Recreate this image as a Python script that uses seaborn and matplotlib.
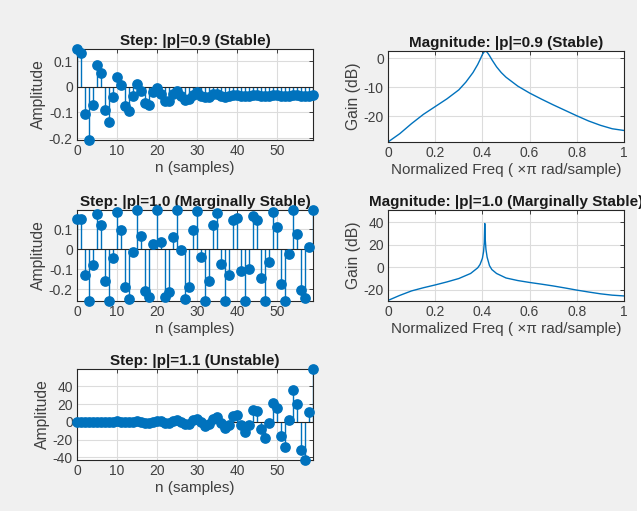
import numpy as np
import pandas as pd
import matplotlib
matplotlib.use("Agg")
import matplotlib.pyplot as plt
import seaborn as sns

# step responses, n = 0..59
n_samples = list(range(60))

step_09 = [0.147, 0.13, -0.104, -0.207, -0.07, 0.086, 0.052, -0.09, -0.138, -0.04,
           0.039, 0.008, -0.074, -0.096, -0.035, 0.01, -0.015, -0.065, -0.07, -0.022,
           -0.005, -0.028, -0.057, -0.057, -0.03, -0.016, -0.035, -0.052, -0.048, -0.031,
           -0.022, -0.034, -0.04, -0.038, -0.03, -0.029, -0.035, -0.038, -0.036, -0.031,
           -0.031, -0.035, -0.037, -0.035, -0.032, -0.032, -0.035, -0.036, -0.034, -0.032,
           -0.033, -0.035, -0.035, -0.034, -0.033, -0.033, -0.034, -0.035, -0.034, -0.033]

step_10 = [0.153, 0.153, -0.129, -0.26, -0.082, 0.174, 0.123, -0.16, -0.26, -0.043,
           0.188, 0.097, -0.188, -0.252, -0.012, 0.196, 0.066, -0.212, -0.238, 0.028,
           0.196, 0.035, -0.238, -0.216, 0.063, 0.196, -0.003, -0.252, -0.19, 0.096,
           0.19, -0.038, -0.26, -0.16, 0.12, 0.18, -0.077, -0.26, -0.129, 0.144,
           0.157, -0.108, -0.26, -0.1, 0.167, 0.144, -0.143, -0.26, -0.064, 0.184,
           0.11, -0.174, -0.26, -0.024, 0.196, 0.078, -0.204, -0.247, 0.009, 0.196]

step_11 = [0.17, 0.18, -0.1, -0.27, -0.06, 0.29, 0.24, -0.22, -0.43, -0.02,
           0.51, 0.33, -0.43, -0.67, 0.07, 0.84, 0.4, -0.81, -1.01, 0.33,
           1.35, 0.44, -1.48, -1.45, 0.85, 2.17, 0.31, -2.54, -2.02, 1.81,
           3.46, -0.08, -4.23, -2.6, 3.47, 5.34, -1.24, -6.8, -3.22, 6.5,
           7.6, -3.3, -11.0, -3.6, 13.5, 12.3, -7.5, -18.5, -1.5, 21.5,
           15.5, -16.3, -28.3, 2.5, 36.0, 19.6, -32.0, -43.0, 11.5, 59.6]

# magnitude responses (normalized frequency, dB)
freq_09 = [0, 0.05, 0.1, 0.15, 0.2, 0.25, 0.3, 0.33, 0.36, 0.38, 0.39, 0.40, 0.41,
           0.42, 0.43, 0.44, 0.46, 0.48, 0.5, 0.55, 0.6, 0.65, 0.7, 0.75, 0.8,
           0.85, 0.9, 0.95, 1.0]
gain_09 = [-29.0, -26.1, -22.6, -19.4, -16.7, -14.0, -10.9, -8.2, -4.9, -2.1, -0.4,
           1.4, 2.6, 2.2, 1.0, -0.4, -2.9, -4.9, -6.5, -9.6, -12.0, -14.1, -16.1,
           -18.0, -19.9, -21.7, -23.2, -24.4, -25.0]

freq_10 = [0, 0.05, 0.1, 0.15, 0.2, 0.25, 0.3, 0.35, 0.38, 0.39, 0.40, 0.405, 0.408,
           0.41, 0.412, 0.415, 0.42, 0.43, 0.44, 0.46, 0.5, 0.55, 0.6, 0.65, 0.7,
           0.75, 0.8, 0.85, 0.9, 0.95, 1.0]
gain_10 = [-29.5, -25.0, -21.0, -18.2, -15.7, -13.0, -10.0, -5.5, -0.5, 2.5, 8.0,
           14.0, 22.0, 39.0, 25.0, 16.0, 9.0, 1.5, -2.0, -5.5, -9.5, -11.8, -13.5,
           -15.0, -16.6, -18.4, -20.3, -22.0, -23.6, -24.8, -25.5]

BLUE = "#0072BD"
DARK = "#262626"
BG = "#f0f0f0"
W, H = 641, 511


def box(x0, x1, top, bottom):
    return [x0 / W, 1 - bottom / H, (x1 - x0) / W, (bottom - top) / H]


def style_axes(ax):
    ax.set_facecolor("white")
    ax.grid(True, color="#dcdcdc", linewidth=0.8)
    for s in ax.spines.values():
        s.set_color(DARK)
        s.set_linewidth(0.8)
        s.set_visible(True)
    ax.tick_params(direction="in", length=3, width=0.6, colors=DARK,
                   labelsize=10, pad=3, top=True, right=True,
                   labeltop=False, labelright=False)


def step_plot(ax, vals, title, yticks, ylabels):
    style_axes(ax)
    ml, sl, bl = ax.stem(n_samples, vals, basefmt=" ")
    plt.setp(ml, color=BLUE, markerfacecolor=BLUE, markeredgecolor=BLUE,
             markersize=6.7, clip_on=False, zorder=4)
    plt.setp(sl, color=BLUE, linewidth=1.0)
    ax.axhline(0, color=DARK, linewidth=0.8, zorder=3)
    ax.set_xlim(0, 59)
    ax.set_ylim(min(vals), max(vals))
    ax.set_xticks([0, 10, 20, 30, 40, 50])
    ax.set_yticks(yticks)
    ax.set_yticklabels(ylabels)
    ax.tick_params(labelcolor="#404040")
    ax.set_title(title, fontsize=11, fontweight="bold", color="#1a1a1a", pad=3)
    ax.set_ylabel("Amplitude", fontsize=11.3, color="#404040", labelpad=2)
    ax.set_xlabel("n (samples)", fontsize=11, color="#404040", labelpad=2)


def mag_plot(ax, f, g, title, ylim, yticks):
    style_axes(ax)
    df = pd.DataFrame({"f": f, "g": g})
    sns.lineplot(data=df, x="f", y="g", ax=ax, color=BLUE, linewidth=1.0)
    ax.set_xlim(0, 1)
    ax.set_ylim(*ylim)
    ax.set_xticks([0, 0.2, 0.4, 0.6, 0.8, 1])
    ax.set_xticklabels(["0", "0.2", "0.4", "0.6", "0.8", "1"])
    ax.set_yticks(yticks)
    ax.set_yticklabels([str(t) for t in yticks])
    ax.tick_params(labelcolor="#404040")
    ax.set_title(title, fontsize=11, fontweight="bold", color="#1a1a1a", pad=3)
    ax.set_ylabel("Gain (dB)", fontsize=11.3, color="#404040", labelpad=2)
    ax.set_xlabel("Normalized Freq ( \u00d7\u03c0 rad/sample)", fontsize=11,
                  color="#404040", labelpad=2)


sns.set_theme(style="whitegrid")
plt.rcParams["font.family"] = ["Liberation Sans", "DejaVu Sans"]
plt.rcParams["axes.unicode_minus"] = False

fig = plt.figure(figsize=(W / 100, H / 100), dpi=100, facecolor="white")
fig.patches.append(plt.Rectangle((0, 0), 637 / W, 1, transform=fig.transFigure,
                                 facecolor=BG, edgecolor="none", zorder=-10))

ax1 = fig.add_axes(box(77, 313, 49, 140))
step_plot(ax1, step_09, "Step: |p|=0.9 (Stable)",
          [-0.2, -0.1, 0, 0.1], ["-0.2", "-0.1", "0", "0.1"])

ax2 = fig.add_axes(box(77, 313, 210, 301))
step_plot(ax2, step_10, "Step: |p|=1.0 (Marginally Stable)",
          [-0.2, -0.1, 0, 0.1], ["-0.2", "-0.1", "0", "0.1"])

ax3 = fig.add_axes(box(77, 313, 369, 460))
step_plot(ax3, step_11, "Step: |p|=1.1 (Unstable)",
          [-40, -20, 0, 20, 40], ["-40", "-20", "0", "20", "40"])

ax4 = fig.add_axes(box(388, 624, 51, 142))
mag_plot(ax4, freq_09, gain_09, "Magnitude: |p|=0.9 (Stable)",
         (-29.0, 2.6), [-20, -10, 0])

ax5 = fig.add_axes(box(388, 624, 210, 301))
mag_plot(ax5, freq_10, gain_10, "Magnitude: |p|=1.0 (Marginally Stable)",
         (-30, 51), [-20, 0, 20, 40])

fig.savefig("out.png", dpi=100, facecolor=fig.get_facecolor())
